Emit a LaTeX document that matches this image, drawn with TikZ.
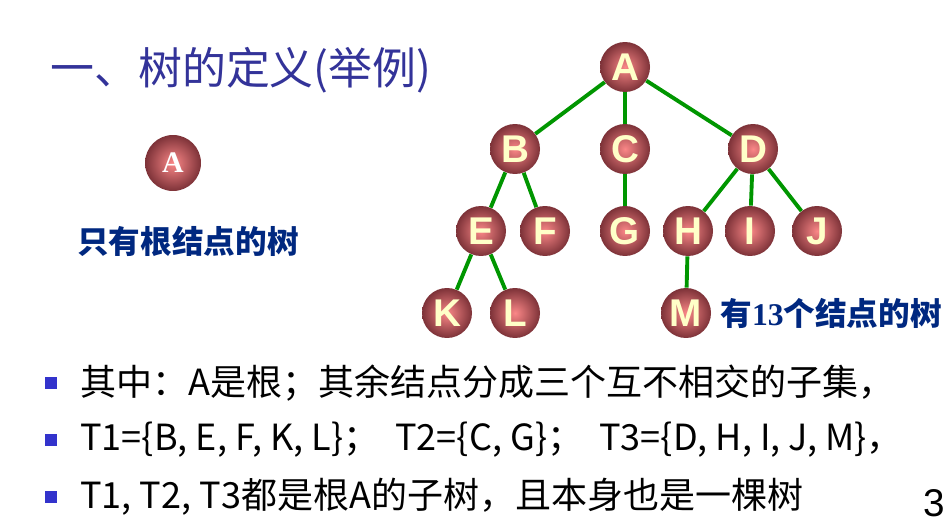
\documentclass[tikz,border=0pt]{standalone}
\usepackage{fontspec}
\setmainfont{Liberation Sans}
\newfontfamily\cjk{Noto Sans CJK SC}
\newfontfamily\tms{Liberation Serif}
\usetikzlibrary{positioning}
\definecolor{titleblue}{RGB}{51,51,153}
\definecolor{navy}{RGB}{0,40,128}
\definecolor{ballin}{RGB}{250,135,135}
\definecolor{ballout}{RGB}{125,50,56}
\definecolor{treegreen}{RGB}{0,150,0}
\definecolor{letter}{RGB}{255,255,200}
\definecolor{bulletblue}{RGB}{51,51,204}

\begin{document}
\begin{tikzpicture}[x=0.02cm, y=-0.02cm,
  ball/.style={circle, minimum size=1cm, inner sep=0pt, inner color=ballin, outer color=ballout,
    text=letter, font=\fontsize{22}{22}\selectfont\bfseries},
  e/.style={treegreen, line width=2.2pt},
  sq/.style={fill=bulletblue, minimum size=7pt, inner sep=0pt},
  ln/.style={anchor=west, inner sep=0pt, font=\cjk\fontsize{20.5}{20.5}\selectfont},
  lbl/.style={anchor=west, inner sep=0pt, text=navy, font=\cjk\fontsize{18}{18}\selectfont\bfseries}]
\useasboundingbox[fill=white] (0,0) rectangle (950,527);
% title
\node[anchor=west, inner sep=0pt, text=titleblue, font=\cjk\fontsize{25}{25}\selectfont] (tt) at (50,70) {一、树的定义(举例)};
% tree with root only
\node[ball, minimum size=1.12cm, font=\tms\fontsize{17}{17}\selectfont\bfseries, text=white] (a0) at (173,163) {A};
\node[lbl] (c0) at (77,241) {只有根结点的树};
% tree with 13 nodes
\node[ball] (A) at (625,67) {A};
\node[ball] (B) at (515,149) {B};
\node[ball] (C) at (625,149) {C};
\node[ball] (D) at (753,149) {D};
\node[ball] (E) at (481,231) {E};
\node[ball] (F) at (545,231) {F};
\node[ball] (G) at (625,231) {G};
\node[ball] (H) at (688,231) {H};
\node[ball] (I) at (750,231) {I};
\node[ball] (J) at (817,231) {J};
\node[ball] (K) at (447,313) {K};
\node[ball] (L) at (515,313) {L};
\node[ball] (M) at (686,313) {M};
\node[lbl, right=5pt of M] (c1) {有{\tms\bfseries 13}个结点的树};
\draw[e] (A) -- (B); \draw[e] (A) -- (C); \draw[e] (A) -- (D);
\draw[e] (B) -- (E); \draw[e] (B) -- (F); \draw[e] (C) -- (G);
\draw[e] (D) -- (H); \draw[e] (D) -- (I); \draw[e] (D) -- (J);
\draw[e] (E) -- (K); \draw[e] (E) -- (L); \draw[e] (H) -- (M);
% bullet lines
\node[sq] (b1) at (51,383) {};
\node[sq] (b2) at (51,440) {};
\node[sq] (b3) at (51,497) {};
\node[ln] (l1) at (80,383) {其中：A是根；其余结点分成三个互不相交的子集，};
\node[ln] (l2) at (80,440) {T1=\{B, E, F, K, L\}；\ \ T2=\{C, G\}；\ \ T3=\{D, H, I, J, M\}，};
\node[ln] (l3) at (80,497) {T1, T2, T3都是根A的子树，且本身也是一棵树};
\node[font=\fontsize{22}{22}\selectfont, inner sep=0pt] (pg) at (934,503) {3};
\end{tikzpicture}
\end{document}
